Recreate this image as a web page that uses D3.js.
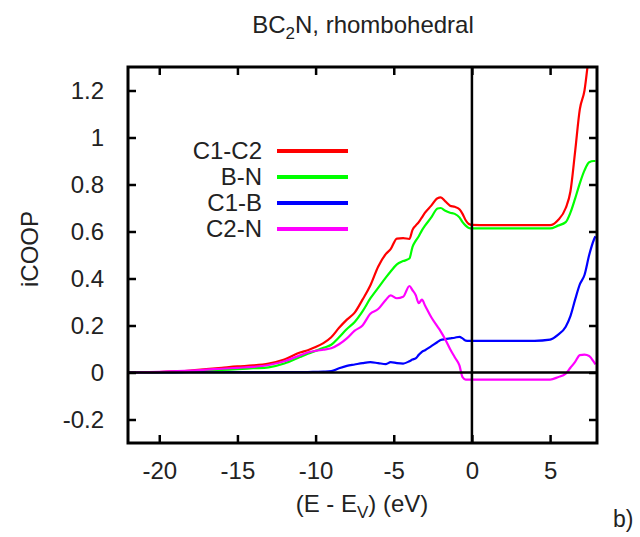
<!DOCTYPE html>
<html>
<head>
<meta charset="utf-8">
<script src="https://cdn.jsdelivr.net/npm/d3@7"></script>
<style>
  body { margin: 0; background: #fff; }
  text { font-family: "Liberation Sans", Arial, sans-serif; fill: #222; }
</style>
</head>
<body>
<svg id="chart" width="640" height="537"></svg>
<script>
// Data
const energy = [-22, -20, -18, -17, -16, -15, -14, -13, -12, -11, -10.5, -10, -9.5, -9, -8.5, -8, -7.5, -7,
  -6.5, -6, -5.5, -5.2, -4.8, -4.4, -4, -3.8, -3.6, -3.4, -3.2, -3, -2.6, -2.2, -2, -1.7, -1.4, -1.1,
  -0.8, -0.6, -0.4, -0.2, 0, 1, 2, 3, 4, 5, 5.5, 6, 6.3, 6.6, 6.9, 7.2, 7.5, 7.8, 7.9];

const c1c2 = [0, 0.002, 0.008, 0.014, 0.02, 0.026, 0.03, 0.038, 0.055, 0.085, 0.095, 0.108, 0.125, 0.15, 0.19, 0.225, 0.255, 0.31,
  0.37, 0.45, 0.505, 0.525, 0.57, 0.572, 0.568, 0.607, 0.625, 0.64, 0.66, 0.68, 0.71, 0.742, 0.745, 0.728, 0.71, 0.705,
  0.695, 0.675, 0.648, 0.632, 0.628, 0.627, 0.627, 0.627, 0.627, 0.627, 0.648, 0.7, 0.77, 0.94, 1.12, 1.2, 1.36, 1.5, 1.55];

const bn = [0, 0.001, 0.004, 0.007, 0.011, 0.014, 0.018, 0.022, 0.038, 0.066, 0.08, 0.092, 0.105, 0.118, 0.15, 0.185, 0.215, 0.26,
  0.315, 0.36, 0.405, 0.43, 0.46, 0.474, 0.485, 0.535, 0.56, 0.58, 0.605, 0.625, 0.66, 0.698, 0.7, 0.688, 0.68, 0.675,
  0.66, 0.64, 0.625, 0.615, 0.613, 0.613, 0.613, 0.613, 0.613, 0.613, 0.625, 0.64, 0.68, 0.74, 0.805, 0.86, 0.895, 0.9, 0.9];

const c1b = [0, 0, 0.001, 0.001, 0.001, 0.002, 0.002, 0.002, 0.002, 0.002, 0.002, 0.003, 0.004, 0.006, 0.018, 0.028, 0.034, 0.04,
  0.044, 0.04, 0.036, 0.044, 0.04, 0.038, 0.048, 0.055, 0.06, 0.075, 0.088, 0.095, 0.112, 0.13, 0.138, 0.142, 0.145, 0.148,
  0.152, 0.145, 0.136, 0.135, 0.135, 0.135, 0.135, 0.135, 0.135, 0.14, 0.16, 0.195, 0.24, 0.31, 0.375, 0.415, 0.5, 0.565, 0.58];

const c2n = [0, 0.003, 0.008, 0.012, 0.016, 0.02, 0.024, 0.032, 0.048, 0.073, 0.085, 0.092, 0.097, 0.103, 0.12, 0.145, 0.178, 0.2,
  0.25, 0.27, 0.31, 0.328, 0.316, 0.322, 0.368, 0.35, 0.33, 0.295, 0.31, 0.285, 0.235, 0.195, 0.175, 0.14, 0.1, 0.065,
  0.03, -0.02, -0.03, -0.03, -0.03, -0.03, -0.03, -0.03, -0.03, -0.03, -0.02, -0.005, 0.02, 0.045, 0.074, 0.076, 0.07, 0.045, 0.035];

const seriesNames = ["C1-C2", "B-N", "C1-B", "C2-N"];
const seriesColors = ["#ff0000", "#00ff00", "#0000ff", "#ff00ff"];
const xTicks = [-20, -15, -10, -5, 0, 5];
const yTicks = [-0.2, 0, 0.2, 0.4, 0.6, 0.8, 1, 1.2];

const svg = d3.select("#chart");
const margin = { left: 128, right: 43, top: 67, bottom: 94 };
const W = 640, H = 537;

const x = d3.scaleLinear().domain([-22, 8]).range([margin.left, W - margin.right]);
const y = d3.scaleLinear().domain([-0.3, 1.3]).range([H - margin.bottom, margin.top]);

svg.append("defs").append("clipPath").attr("id", "clip")
  .append("rect")
  .attr("x", x(-22)).attr("y", y(1.3))
  .attr("width", x(8) - x(-22)).attr("height", y(-0.3) - y(1.3));

// curves
const allSeries = [c1c2, bn, c1b, c2n];
const line = d3.line()
  .x((d, i) => x(energy[i]))
  .y(d => y(d))
  .curve(d3.curveMonotoneX);

svg.append("g").attr("clip-path", "url(#clip)")
  .selectAll("path")
  .data(allSeries)
  .enter()
  .append("path")
  .attr("d", line)
  .attr("fill", "none")
  .attr("stroke", (d, i) => seriesColors[i])
  .attr("stroke-width", 2.2)
  .attr("stroke-linejoin", "round");

// zero lines
svg.append("line")
  .attr("x1", x(-22)).attr("x2", x(8))
  .attr("y1", y(0)).attr("y2", y(0))
  .attr("stroke", "#000").attr("stroke-width", 2.5);
svg.append("line")
  .attr("x1", x(0)).attr("x2", x(0))
  .attr("y1", y(1.3)).attr("y2", y(-0.3))
  .attr("stroke", "#000").attr("stroke-width", 2.5);

// axes, ticks inward, mirrored; plain hyphen for negatives like the original
const fmt = d => String(+d.toFixed(1));
const tickLen = 8;
const axBottom = svg.append("g").attr("transform", `translate(0,${y(-0.3)})`)
  .call(d3.axisBottom(x).tickValues(xTicks).tickSizeInner(-tickLen).tickSizeOuter(0).tickPadding(19).tickFormat(fmt));
const axTop = svg.append("g").attr("transform", `translate(0,${y(1.3)})`)
  .call(d3.axisTop(x).tickValues(xTicks).tickSizeInner(-tickLen).tickSizeOuter(0).tickFormat(""));
const axLeft = svg.append("g").attr("transform", `translate(${x(-22)},0)`)
  .call(d3.axisLeft(y).tickValues(yTicks).tickSizeInner(-tickLen).tickSizeOuter(0).tickPadding(24).tickFormat(fmt));
const axRight = svg.append("g").attr("transform", `translate(${x(8)},0)`)
  .call(d3.axisRight(y).tickValues(yTicks).tickSizeInner(-tickLen).tickSizeOuter(0).tickFormat(""));

[axBottom, axTop, axLeft, axRight].forEach(g => {
  g.select(".domain").remove();
  g.selectAll(".tick line").attr("stroke", "#000").attr("stroke-width", 2.5);
  g.selectAll("text").attr("font-size", 24).attr("fill", "#222")
    .attr("font-family", "Liberation Sans, Arial, sans-serif");
});

// frame
svg.append("rect")
  .attr("x", x(-22)).attr("y", y(1.3))
  .attr("width", x(8) - x(-22)).attr("height", y(-0.3) - y(1.3))
  .attr("fill", "none").attr("stroke", "#000").attr("stroke-width", 3);

// title
const title = svg.append("text")
  .attr("x", 363).attr("y", 33)
  .attr("text-anchor", "middle").attr("font-size", 24);
title.append("tspan").text("BC");
title.append("tspan").attr("font-size", 17).attr("dy", 6).text("2");
title.append("tspan").attr("dy", -6).text("N, rhombohedral");

// axis labels
svg.append("text")
  .attr("transform", "translate(38,249) rotate(-90)")
  .attr("text-anchor", "middle").attr("font-size", 24)
  .text("iCOOP");

const xl = svg.append("text")
  .attr("x", 362).attr("y", 512)
  .attr("text-anchor", "middle").attr("font-size", 24);
xl.append("tspan").text("(E - E");
xl.append("tspan").attr("font-size", 17).attr("dy", 6).text("V");
xl.append("tspan").attr("dy", -6).text(") (eV)");

svg.append("text")
  .attr("x", 613).attr("y", 527)
  .attr("font-size", 23)
  .text("b)");

// legend
const legendY = [151, 177, 203, 229];
const legend = svg.append("g");
seriesNames.forEach((name, i) => {
  legend.append("text")
    .attr("x", 262).attr("y", legendY[i])
    .attr("dy", "0.35em")
    .attr("text-anchor", "end").attr("font-size", 24)
    .text(name);
  legend.append("line")
    .attr("x1", 277).attr("x2", 348)
    .attr("y1", legendY[i]).attr("y2", legendY[i])
    .attr("stroke", seriesColors[i]).attr("stroke-width", 4);
});
</script>
</body>
</html>
